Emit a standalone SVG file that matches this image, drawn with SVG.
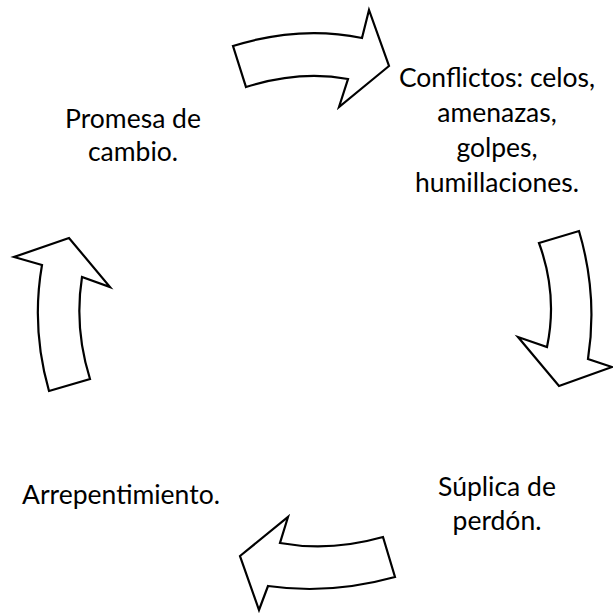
<svg xmlns="http://www.w3.org/2000/svg" width="613" height="614" viewBox="0 0 613 614">
<style>
.arrow{fill:#fff;stroke:#000;stroke-width:2.2;stroke-linejoin:miter}
.t{font-family:Lato,"Noto Sans",sans-serif;font-size:26.5px;fill:#000;text-anchor:middle}
</style>
<rect width="613" height="614" fill="#fff"/>
<g id="connectors">
<path id="arrow-top" class="arrow" d="M233,46 Q300,25 362,38 L369,10 L389,66 L339,107 L348,79 Q300,70 246,87 Z"/>
<path id="arrow-right" class="arrow" d="M539,243 L579,231 Q598,295 588,359 L612,367 L559,386 L518,337 L547,347 Q558,295 539,243 Z"/>
<path id="arrow-bottom" class="arrow" d="M383,537 L395,577 Q330,595 268,586 L259,610 L240,556 L288,517 L280,543 Q330,552 383,537 Z"/>
<path id="arrow-left" class="arrow" d="M49,391 L90,379 Q74,328 82,277 L110,287 L69,238 L14,257 L42,265 Q31,328 49,391 Z"/>
</g>
<g id="node-promesa">
<text class="t" x="133" y="128">Promesa de</text>
<text class="t" x="133" y="161">cambio.</text>
</g>
<g id="node-conflictos">
<text class="t" x="497" y="87">Conflictos: celos,</text>
<text class="t" x="497" y="122">amenazas,</text>
<text class="t" x="497" y="157">golpes,</text>
<text class="t" x="497" y="192">humillaciones.</text>
</g>
<g id="node-suplica">
<text class="t" x="497" y="496">Súplica de</text>
<text class="t" x="497" y="530">perdón.</text>
</g>
<g id="node-arrepentimiento">
<text class="t" x="121" y="504">Arrepentimiento.</text>
</g>
</svg>
